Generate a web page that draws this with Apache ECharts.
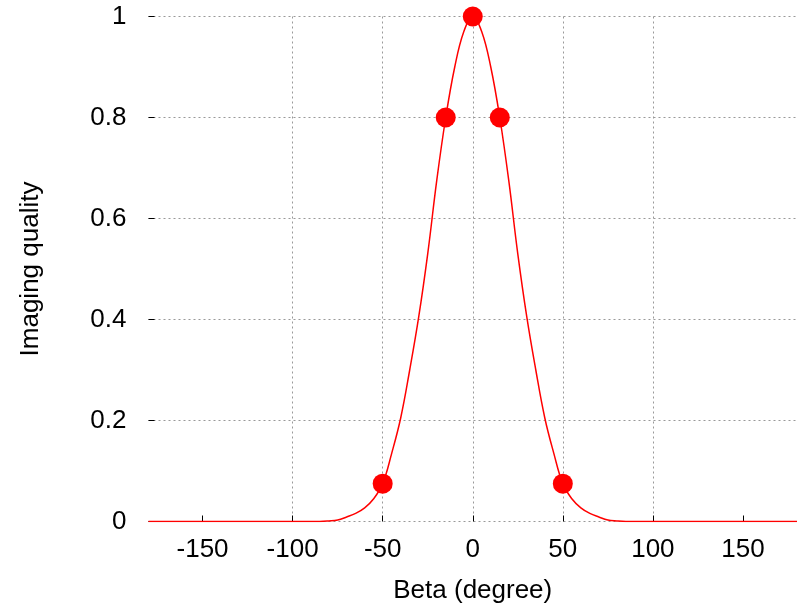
<!DOCTYPE html>
<html>
<head>
<meta charset="utf-8">
<script src="https://cdn.jsdelivr.net/npm/echarts@6/dist/echarts.min.js"></script>
<style>
html,body{margin:0;padding:0;background:#fff;}
#chart{width:797px;height:612px;}
</style>
</head>
<body>
<div id="chart"></div>
<script>
// curve (beta in degree, imaging quality)
const betaCurve = [-180, -85, -80, -75, -70, -65, -60, -55, -50, -45, -40, -35, -30, -25, -20, -15, -10, -5, 0,
                   5, 10, 15, 20, 25, 30, 35, 40, 45, 50, 55, 60, 65, 70, 75, 80, 85, 180];
const qualityCurve = [0, 0, 0.001, 0.003, 0.009, 0.016, 0.027, 0.045, 0.075, 0.135, 0.205, 0.3, 0.405, 0.53, 0.675, 0.8, 0.9, 0.97, 1,
                      0.97, 0.9, 0.8, 0.675, 0.53, 0.405, 0.3, 0.205, 0.135, 0.075, 0.045, 0.027, 0.016, 0.009, 0.003, 0.001, 0, 0];
// measured points
const betaPoints = [-50, -15, 0, 15, 50];
const qualityPoints = [0.075, 0.8, 1, 0.8, 0.075];
const xTicks = [-150, -100, -50, 0, 50, 100, 150];

let myChart = echarts.init(document.getElementById("chart"));
const font = 'Liberation Sans, Arial, sans-serif';
let option = {
    animation: false,
    grid: {
        left: 148.5,
        right: -4.5,
        top: 16.5,
        bottom: 90.5
    },
    xAxis: {
        type: 'value',
        min: -180,
        max: 180,
        splitNumber: 7,
        minInterval: 50,
        maxInterval: 50,
        name: 'Beta (degree)',
        nameLocation: 'middle',
        nameGap: 56,
        nameTextStyle: { fontFamily: font, fontSize: 26, color: '#000' },
        axisLine: { show: false, onZero: false },
        axisTick: { inside: true, length: 6, customValues: xTicks, lineStyle: { color: '#000' } },
        axisLabel: { customValues: xTicks, margin: 15, fontFamily: font, fontSize: 26, color: '#000' },
        splitLine: {
            show: true,
            showMinLine: false,
            showMaxLine: false,
            lineStyle: { color: '#999', type: [2, 3], width: 1 }
        }
    },
    yAxis: {
        type: 'value',
        min: 0,
        max: 1,
        interval: 0.2,
        name: 'Imaging quality',
        nameLocation: 'middle',
        nameGap: 105,
        nameTextStyle: { fontFamily: font, fontSize: 26, color: '#000' },
        axisLine: { show: false, onZero: false },
        axisTick: { show: true, inside: true, length: 6, lineStyle: { color: '#000' } },
        axisLabel: { margin: 22, fontFamily: font, fontSize: 26, color: '#000' },
        splitLine: {
            show: true,
            lineStyle: { color: '#999', type: [2, 3], width: 1 }
        }
    },
    series: [
        {
            name: 'curve',
            type: 'line',
            symbol: 'none',
            smooth: 0.4,
            data: betaCurve.map((b, i) => [b, qualityCurve[i]]),
            lineStyle: { color: '#ff0000', width: 1.5 },
            z: 2
        },
        {
            name: 'points',
            type: 'scatter',
            symbol: 'circle',
            symbolSize: 20,
            data: betaPoints.map((b, i) => [b, qualityPoints[i]]),
            itemStyle: { color: '#ff0000', opacity: 1 },
            z: 3
        }
    ]
};
myChart.setOption(option);
</script>
</body>
</html>
